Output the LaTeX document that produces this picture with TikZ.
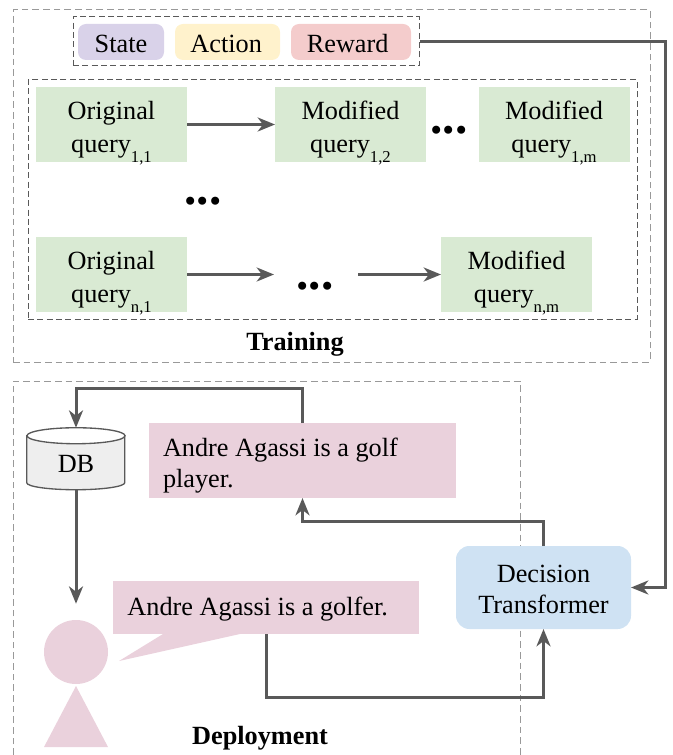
\documentclass[tikz,border=0pt]{standalone}
\usepackage{fontspec}
\setmainfont{Liberation Serif}
\usetikzlibrary{arrows.meta,calc}
\definecolor{cstate}{HTML}{D9D2E9}
\definecolor{caction}{HTML}{FFF2CC}
\definecolor{creward}{HTML}{F4CCCC}
\definecolor{cgreen}{HTML}{D9EAD3}
\definecolor{cpink}{HTML}{EAD1DC}
\definecolor{cblue}{HTML}{CFE2F3}
\definecolor{cdb}{HTML}{EEEEEE}
\definecolor{cline}{HTML}{595959}
\definecolor{cdash}{HTML}{999999}
\newcommand{\qsub}[1]{\raisebox{-0.38em}{\fontsize{12.5pt}{14pt}\selectfont #1}}
\newcommand{\qtop}[1]{\rule{0pt}{#1}}
\newcommand{\qlines}[2]{\raisebox{-9.75pt}[20pt][20pt]{\begin{tabular}{@{}c@{}}#1\\#2\end{tabular}}}
\tikzset{
  txt/.style={font=\fontsize{19.7pt}{24.75pt}\selectfont,text=black,inner sep=0pt,outer sep=0pt},
  pill/.style={txt,rounded corners=6pt,minimum height=27pt,text height=16.5pt,text depth=0pt},
  query/.style={txt,fill=cgreen,minimum width=113.25pt,minimum height=56.25pt},
  conn/.style={draw=cline,line width=2.25pt,line join=miter,-{Stealth[length=13pt,width=10.5pt,inset=4pt]}},
  outerbox/.style={draw=cdash,line width=0.75pt,dash pattern=on 5pt off 3pt},
  innerbox/.style={draw=cline,line width=0.75pt,dash pattern=on 4.5pt off 2.5pt},
  dotsnode/.style={font=\fontsize{37pt}{37pt}\selectfont\bfseries,text=black,inner sep=0pt},
}
\begin{document}
\begin{tikzpicture}[x=0.75pt,y=-0.75pt]
\useasboundingbox (0,0) rectangle (673,755);
% frames
\node[outerbox,minimum width=477.75pt,minimum height=264pt,inner sep=0pt] (trainframe) at (331.5,186) {};
\draw[outerbox] (13,755) -- (13,381) -- (520,381) -- (520,755);
\node[innerbox,minimum width=259.5pt,minimum height=36.75pt,inner sep=0pt] (legend) at (246,41.5) {};
\node[innerbox,minimum width=456.75pt,minimum height=179.25pt,inner sep=0pt] (inner) at (332.5,199.5) {};
% legend
\node[pill,fill=cstate,minimum width=64.5pt] (state) at (121,42) {State};
\node[pill,fill=caction,minimum width=78.75pt] (action) at (227.5,42) {Action\kern2pt};
\node[pill,fill=creward,minimum width=90pt] (reward) at (351,42) {Reward\kern5pt};
% queries
\node[query] (o11) at (111.5,124.5) {\qlines{Original}{query\qsub{1,1}}};
\node[query] (m12) at (350.5,124.5) {\qlines{Modified}{query\qsub{1,2}}};
\node[query] (m1m) at (554,124.5) {\qlines{Modified}{query\qsub{1,m}}};
\node[query] (o21) at (111.5,274.5) {\qlines{Original}{query\qsub{n,1}}};
\node[query] (m2m) at (516.5,274.5) {\qlines{Modified}{query\qsub{n,m}}};
\node[dotsnode] (d1) at (449,130.5) {...};
\node[dotsnode] (d2) at (203,201.5) {...};
\node[dotsnode] (d3) at (315,286.5) {...};
\coordinate (rowa) at (274,274.5);
\coordinate (rowb) at (358,274.5);
\node[txt,font=\fontsize{19.7pt}{24.75pt}\selectfont\bfseries] (training) at (295,344) {Training};
\node[txt,font=\fontsize{19.7pt}{24.75pt}\selectfont\bfseries] (deployment) at (260,738) {Deployment};
% deployment
\node[minimum width=73.5pt,minimum height=46.5pt,inner sep=0pt] (db) at (76,459) {};
\draw[draw=cline,line width=1pt,fill=cdb]
  ($(db.north west)+(0,8)$) -- ++(0,47)
  arc[start angle=180,end angle=0,x radius=49,y radius=7]
  -- ++(0,-47) -- cycle;
\draw[draw=cline,line width=1pt,fill=white]
  ($(db.north)+(0,8)$) ellipse[x radius=49,y radius=8];
\node[txt] (dbtext) at (76,464) {DB};
\node[txt,fill=cpink,align=flush left,text width=209.25pt,inner xsep=10.5pt,minimum height=56.25pt] (player) at (302.5,460.5) {\qtop{22pt}Andre Agassi is a golf\\[-1.5pt]player.};
\node[txt,fill=cpink,minimum width=229.5pt,minimum height=39.75pt,text height=12.5pt,text depth=0pt] (golfer) at (266,607.5) {Andre Agassi is a golfer.\kern12.5pt};
\coordinate (ta) at (163,634);
\coordinate (tb) at (119,661);
\coordinate (tc) at (240,634);
\fill[cpink] (ta) -- (tb) -- (tc) -- cycle;
\node[circle,fill=cpink,minimum size=48pt,inner sep=0pt] (head) at (76,652) {};
\coordinate (bodytop) at (76,686);
\coordinate (bodyl) at (44,747);
\coordinate (bodyr) at (108,747);
\fill[cpink] (bodytop) -- (bodyl) -- (bodyr) -- cycle;
\node[txt,fill=cblue,align=center,rounded corners=10pt,minimum width=131.25pt,minimum height=62.25pt] (dt) at (543.5,587.5) {\qtop{15.5pt}Decision\\[-1.5pt]Transformer};
% turns
\coordinate (t1) at (665,300);
\coordinate (t2) at (200,388);
\coordinate (t3) at (420,521);
\coordinate (t4) at (400,697);
% connectors
\draw[conn] (o11.east) -- (m12.west);
\draw[conn] (o21.east) -- (rowa);
\draw[conn] (rowb) -- (m2m.west);
\draw[conn] (legend.east) -| (t1) |- (dt.east);
\draw[conn] (player.north) |- (t2) -| (db.north);
\draw[conn,shorten >=12pt] (db.south) -- (head.north);
\draw[conn] (dt.north) |- (t3) -| (player.south);
\draw[conn] (golfer.south) |- (t4) -| (dt.south);
\end{tikzpicture}
\end{document}
